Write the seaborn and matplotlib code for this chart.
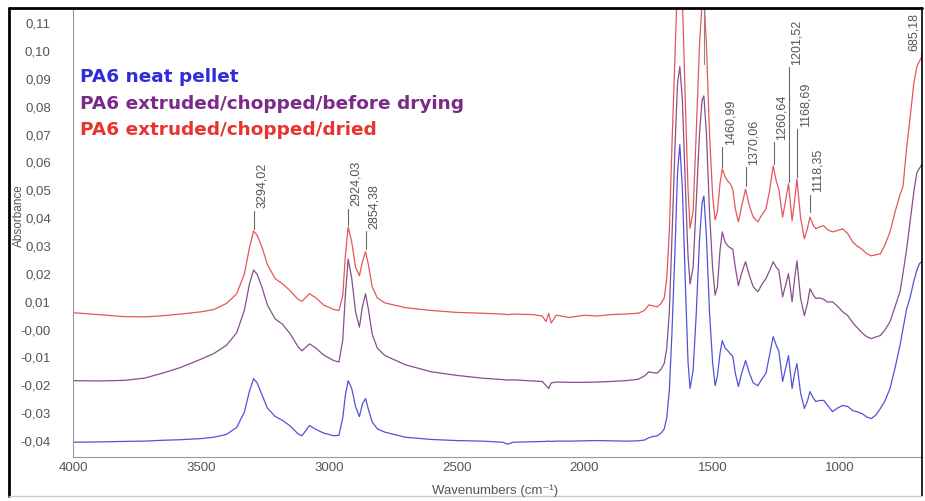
import numpy as np
import pandas as pd
import matplotlib
matplotlib.use("Agg")
import matplotlib.pyplot as plt
from matplotlib.lines import Line2D
from matplotlib.ticker import MultipleLocator, FuncFormatter
import seaborn as sns

sns.set_style("white")
plt.rcParams["font.family"] = ["Liberation Sans", "DejaVu Sans"]

# ---------------------------------------------------------------
# DATA
# ---------------------------------------------------------------
wavenumber = [4000, 3900, 3800, 3720, 3650, 3580, 3500, 3450, 3400, 3360, 3330, 3310,
              3294, 3280, 3260, 3240, 3210, 3180, 3150, 3120, 3105, 3075, 3050, 3020,
              2980, 2960, 2945, 2935, 2924, 2910, 2895, 2880, 2868, 2856, 2845, 2830,
              2810, 2780, 2700, 2600, 2500, 2400, 2320, 2300, 2280, 2200, 2165, 2150,
              2140, 2130, 2110, 2060, 2000, 1950, 1900, 1840, 1790, 1765, 1748, 1735,
              1715, 1700, 1688, 1678, 1668, 1658, 1646, 1636, 1627, 1617, 1605, 1595,
              1587, 1575, 1563, 1550, 1540, 1533, 1523, 1511, 1499, 1489, 1480, 1470,
              1461, 1450, 1440, 1430, 1420, 1410, 1398, 1385, 1370, 1355, 1340, 1322,
              1305, 1290, 1275, 1262, 1250, 1240, 1225, 1215, 1202, 1188, 1178, 1169,
              1155, 1140, 1128, 1118, 1105, 1095, 1080, 1064, 1050, 1030, 1010, 990,
              970, 950, 935, 915, 895, 878, 860, 843, 825, 805, 785, 766,
              754, 740, 727, 712, 700, 690, 680]

dried = [0.0057, 0.0050, 0.0043, 0.0042, 0.0046, 0.0052, 0.0060, 0.0068, 0.0090, 0.0125, 0.0195, 0.0290,
         0.0350, 0.0335, 0.0290, 0.0230, 0.0180, 0.0160, 0.0135, 0.0105, 0.0098, 0.0125, 0.0110, 0.0085,
         0.0068, 0.0065, 0.0120, 0.0260, 0.0365, 0.0310, 0.0220, 0.0190, 0.0240, 0.0276, 0.0230, 0.0150,
         0.0110, 0.0092, 0.0075, 0.0065, 0.0058, 0.0055, 0.0052, 0.0050, 0.0052, 0.0050, 0.0045, 0.0025,
         0.0055, 0.0020, 0.0048, 0.0040, 0.0048, 0.0045, 0.0050, 0.0052, 0.0055, 0.0065, 0.0085, 0.0082,
         0.0078, 0.0090, 0.0110, 0.0180, 0.0350, 0.0650, 0.0980, 0.1250, 0.1320, 0.1180, 0.0800, 0.0500,
         0.0360, 0.0420, 0.0700, 0.1020, 0.1170, 0.1190, 0.1020, 0.0700, 0.0480, 0.0390, 0.0420, 0.0520,
         0.0573, 0.0545, 0.0530, 0.0520, 0.0500, 0.0430, 0.0383, 0.0440, 0.0500, 0.0440, 0.0400, 0.0383,
         0.0410, 0.0430, 0.0500, 0.0584, 0.0530, 0.0500, 0.0400, 0.0450, 0.0520, 0.0387, 0.0460, 0.0537,
         0.0400, 0.0322, 0.0360, 0.0400, 0.0370, 0.0358, 0.0365, 0.0369, 0.0355, 0.0347, 0.0352, 0.0358,
         0.0340, 0.0310, 0.0297, 0.0285, 0.0268, 0.0261, 0.0265, 0.0268, 0.0300, 0.0347, 0.0420, 0.0480,
         0.0512, 0.0650, 0.0752, 0.0880, 0.0940, 0.0960, 0.0975]

before_drying = [-0.0187, -0.0188, -0.0186, -0.0178, -0.0160, -0.0140, -0.0110, -0.0090, -0.0060, -0.0015, 0.0065, 0.0160,
                 0.0210, 0.0195, 0.0145, 0.0085, 0.0035, 0.0015, -0.0020, -0.0065, -0.0080, -0.0055, -0.0070, -0.0095,
                 -0.0115, -0.0120, -0.0040, 0.0120, 0.0250, 0.0180, 0.0060, 0.0005, 0.0080, 0.0125, 0.0070, -0.0020,
                 -0.0070, -0.0097, -0.0130, -0.0155, -0.0168, -0.0178, -0.0183, -0.0185, -0.0184, -0.0188, -0.0190, -0.0205,
                 -0.0215, -0.0195, -0.0192, -0.0193, -0.0193, -0.0192, -0.0190, -0.0187, -0.0182, -0.0170, -0.0155, -0.0158,
                 -0.0160, -0.0145, -0.0125, -0.0070, 0.0060, 0.0320, 0.0650, 0.0880, 0.0940, 0.0820, 0.0500, 0.0260,
                 0.0160, 0.0220, 0.0450, 0.0700, 0.0820, 0.0835, 0.0700, 0.0420, 0.0220, 0.0120, 0.0150, 0.0280,
                 0.0347, 0.0310, 0.0297, 0.0290, 0.0285, 0.0220, 0.0154, 0.0200, 0.0240, 0.0190, 0.0150, 0.0132,
                 0.0160, 0.0180, 0.0210, 0.0240, 0.0220, 0.0210, 0.0114, 0.0150, 0.0197, 0.0096, 0.0180, 0.0243,
                 0.0110, 0.0046, 0.0090, 0.0143, 0.0120, 0.0108, 0.0110, 0.0105, 0.0095, 0.0096, 0.0080, 0.0060,
                 0.0046, 0.0020, 0.0005, -0.0015, -0.0030, -0.0036, -0.0030, -0.0025, -0.0005, 0.0025, 0.0080, 0.0132,
                 0.0200, 0.0286, 0.0380, 0.0490, 0.0560, 0.0575, 0.0590]

neat_pellet = [-0.0408, -0.0407, -0.0405, -0.0404, -0.0401, -0.0399, -0.0395, -0.0390, -0.0380, -0.0355, -0.0300, -0.0225,
               -0.0180, -0.0195, -0.0240, -0.0285, -0.0315, -0.0330, -0.0350, -0.0378, -0.0385, -0.0348, -0.0362, -0.0375,
               -0.0385, -0.0383, -0.0320, -0.0240, -0.0187, -0.0215, -0.0280, -0.0316, -0.0270, -0.0251, -0.0290, -0.0335,
               -0.0360, -0.0372, -0.0390, -0.0398, -0.0402, -0.0404, -0.0408, -0.0415, -0.0408, -0.0406, -0.0405, -0.0405,
               -0.0404, -0.0405, -0.0404, -0.0404, -0.0403, -0.0402, -0.0403, -0.0404, -0.0403, -0.0400, -0.0392, -0.0388,
               -0.0385, -0.0375, -0.0360, -0.0320, -0.0220, -0.0020, 0.0280, 0.0560, 0.0660, 0.0500, 0.0150, -0.0120,
               -0.0215, -0.0150, 0.0050, 0.0320, 0.0450, 0.0476, 0.0330, 0.0060, -0.0120, -0.0205, -0.0170, -0.0090,
               -0.0043, -0.0070, -0.0079, -0.0090, -0.0100, -0.0160, -0.0208, -0.0160, -0.0115, -0.0160, -0.0195, -0.0205,
               -0.0180, -0.0160, -0.0090, -0.0029, -0.0060, -0.0080, -0.0190, -0.0150, -0.0097, -0.0215, -0.0160, -0.0126,
               -0.0230, -0.0287, -0.0260, -0.0226, -0.0250, -0.0262, -0.0258, -0.0258, -0.0275, -0.0298, -0.0285, -0.0276,
               -0.0280, -0.0295, -0.0298, -0.0305, -0.0318, -0.0323, -0.0310, -0.0287, -0.0260, -0.0215, -0.0140, -0.0060,
               0.0000, 0.0071, 0.0110, 0.0170, 0.0210, 0.0233, 0.0240]

samples = ["PA6 neat pellet", "PA6 extruded/chopped/before drying", "PA6 extruded/chopped/dried"]

# peak annotations (label, wavenumber, marker bottom, marker top)
peak_text = ["3294,02", "2924,03", "2854,38", "1460,99", "1370,06",
             "1260,64", "1201,52", "1168,69", "1118,35", "685,18"]
peak_wn = [3294.02, 2924.03, 2854.38, 1460.99, 1370.06,
           1260.64, 1201.52, 1168.69, 1118.35, 685.18]
marker_lo = [0.0358, 0.0370, 0.0285, 0.0580, 0.0510, 0.0590, 0.0525, 0.0545, 0.0420, 0.0970]
marker_hi = [0.0423, 0.0430, 0.0350, 0.0652, 0.0580, 0.0670, 0.0939, 0.0716, 0.0480, 0.0990]

df = pd.DataFrame({
    "wn": wavenumber * 3,
    "absorbance": neat_pellet + before_drying + dried,
    "sample": [s for s in samples for _ in wavenumber],
})

line_colors = ["#5252d9", "#86508c", "#e4565c"]
text_colors = ["#2e2ed6", "#7a2a88", "#e8342f"]

# ---------------------------------------------------------------
# PLOT
# ---------------------------------------------------------------
fig = plt.figure(figsize=(9.25, 5.02), dpi=100)
ax = fig.add_axes([73 / 925, 44 / 502, 849 / 925, 448 / 502])

sns.lineplot(data=df, x="wn", y="absorbance", hue="sample", hue_order=samples,
             palette=line_colors, estimator=None, sort=False, lw=0.9,
             legend=False, ax=ax)

# amide II marker running off the top
ax.plot([1533, 1533], [0.095, 0.12], color="#888888", lw=0.8)

for txt, wn, lo, hi in zip(peak_text, peak_wn, marker_lo, marker_hi):
    ax.plot([wn, wn], [lo, hi], color="#666666", lw=0.8)
    if wn < 700:
        ax.text(wn + 4, hi + 0.0010, txt, rotation=90, ha="right", va="bottom",
                fontsize=9, color="#555555")
    else:
        ax.text(wn - 8, hi + 0.0012, txt, rotation=90, ha="left", va="bottom",
                fontsize=9, color="#555555")

for i, (s, c) in enumerate(zip(samples, text_colors)):
    ax.text(0.008, 0.850 - i * 0.059, s, transform=ax.transAxes, color=c,
            fontsize=13.3, fontweight="bold", va="center", ha="left",
            family="DejaVu Sans")

ax.set_xlim(4000, 680)
ax.set_ylim(-0.0461, 0.1147)

ax.xaxis.set_major_locator(MultipleLocator(500))
ax.xaxis.set_minor_locator(MultipleLocator(100))
ax.yaxis.set_major_locator(MultipleLocator(0.01))
ax.yaxis.set_minor_locator(MultipleLocator(0.002))


def comma_fmt(v, _):
    if abs(v) < 1e-9:
        return "-0,00"
    return f"{v:.2f}".replace(".", ",")


ax.yaxis.set_major_formatter(FuncFormatter(comma_fmt))
ax.xaxis.set_major_formatter(FuncFormatter(lambda v, _: f"{v:.0f}"))

ax.tick_params(axis="both", which="major", labelsize=9.5, labelcolor="#555555",
               color="#888888", width=0.8)
ax.tick_params(axis="y", which="major", length=4, direction="out", pad=12)
ax.tick_params(axis="x", which="major", length=3, direction="in", pad=3)
ax.tick_params(axis="both", which="minor", color="#aaaaaa", length=2, width=0.6,
               direction="in")

for side in ["top", "right"]:
    ax.spines[side].set_visible(False)
for side in ["left", "bottom"]:
    ax.spines[side].set_color("#999999")
    ax.spines[side].set_linewidth(0.8)

ax.set_xlabel("")
ax.set_ylabel("Absorbance", fontsize=8.5, color="#555555")
ax.yaxis.set_label_coords(-0.056, 0.54)

# x label and outer frame of the screenshot (figure pixel positions)
fx = lambda px: px / 925
fy = lambda py: 1 - py / 502
fig.text(fx(495), fy(491), "Wavenumbers (cm⁻¹)", fontsize=9.5, color="#555555",
         ha="center", va="center")
fig.add_artist(Line2D([fx(9), fx(9)], [fy(9), fy(497)], color="black", lw=2))
fig.add_artist(Line2D([fx(9), fx(922)], [fy(9), fy(9)], color="black", lw=2))
fig.add_artist(Line2D([fx(922), fx(922)], [fy(9), fy(497)], color="black", lw=1.2))
fig.add_artist(Line2D([fx(9), fx(922)], [fy(497), fy(497)], color="#cccccc", lw=1))

plt.savefig("out.png", dpi=100)
plt.close()
